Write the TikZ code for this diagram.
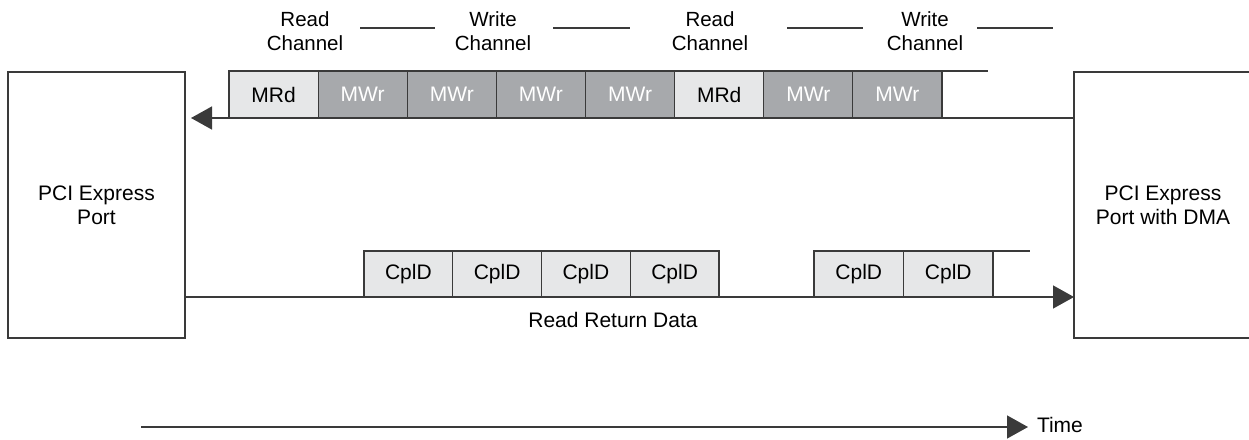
\documentclass[tikz,border=0pt]{standalone}
\usepackage{fontspec}
\setmainfont{Liberation Sans}
\usetikzlibrary{arrows.meta}
\definecolor{lightfill}{HTML}{E6E7E8}
\definecolor{darkfill}{HTML}{A7A9AC}
\definecolor{edge}{HTML}{3A3A3A}
\begin{document}
\begin{tikzpicture}[x=1pt,y=-1pt,
  every node/.style={font=\fontsize{21}{24}\selectfont, inner sep=0pt, outer sep=0pt},
  port/.style={draw=edge, line width=1.4pt, minimum height=266pt, align=center, anchor=north west},
  pkt/.style={draw=edge, line width=1.2pt, minimum height=47pt, anchor=south west},
  rd/.style={pkt, fill=lightfill, minimum width=89.125pt},
  wr/.style={pkt, fill=darkfill, text=white, minimum width=89.125pt},
  cpl/.style={pkt, fill=lightfill, minimum height=46pt},
  lbl/.style={align=center, font=\fontsize{20.5}{24}\selectfont},
  wire/.style={draw=edge, line width=1.4pt},
  dashln/.style={draw=edge, line width=1.2pt},
  head/.style={-{Triangle[length=21pt,width=23pt]}}
]
\useasboundingbox (0,0) rectangle (1249,439);

% ports
\node[port, minimum width=177pt] (lp) at (8,72) {PCI Express\\Port};
\node[port, minimum width=178pt] (rp) at (1074,72) {PCI Express\\Port with DMA};

% top arrow (write/read requests)
\coordinate (ltip) at (191,118);
\draw[wire, head] (rp.west |- ltip) -- (ltip);

% request packets
\node[rd] (p1) at (229,118) {MRd};
\node[wr] (p2) at (p1.south east) [anchor=south west] {MWr};
\node[wr] (p3) at (p2.south east) [anchor=south west] {MWr};
\node[wr] (p4) at (p3.south east) [anchor=south west] {MWr};
\node[wr] (p5) at (p4.south east) [anchor=south west] {MWr};
\node[rd] (p6) at (p5.south east) [anchor=south west] {MRd};
\node[wr] (p7) at (p6.south east) [anchor=south west] {MWr};
\node[wr] (p8) at (p7.south east) [anchor=south west] {MWr};
\coordinate (topend) at (988,70);
\draw[wire] (p8.north east) -- (p8.north east -| topend);

% channel labels
\node[lbl] (l1) at (305,31) {Read\\Channel};
\node[lbl] (l2) at (493,31) {Write\\Channel};
\node[lbl] (l3) at (710,31) {Read\\Channel};
\node[lbl] (l4) at (925,31) {Write\\Channel};
\coordinate (d1a) at (360,28); \coordinate (d1b) at (435,28);
\coordinate (d2a) at (553,28); \coordinate (d2b) at (630,28);
\coordinate (d3a) at (787,28); \coordinate (d3b) at (863,28);
\coordinate (d4a) at (977,28); \coordinate (d4b) at (1053,28);
\draw[dashln] (d1a) -- (d1b);
\draw[dashln] (d2a) -- (d2b);
\draw[dashln] (d3a) -- (d3b);
\draw[dashln] (d4a) -- (d4b);

% bottom arrow (read return data)
\coordinate (rstart) at (185,297);
\draw[wire, head] (rstart) -- (rstart -| rp.west);

% completions
\node[cpl, minimum width=88.75pt] (c1) at (364,297) {CplD};
\node[cpl, minimum width=88.75pt] (c2) at (c1.south east) [anchor=south west] {CplD};
\node[cpl, minimum width=88.75pt] (c3) at (c2.south east) [anchor=south west] {CplD};
\node[cpl, minimum width=88.75pt] (c4) at (c3.south east) [anchor=south west] {CplD};
\node[cpl, minimum width=89.5pt] (c5) at (814,297) {CplD};
\node[cpl, minimum width=89.5pt] (c6) at (c5.south east) [anchor=south west] {CplD};
\coordinate (botend) at (1030,251);
\draw[wire] (c6.north east) -- (c6.north east -| botend);

\node (rrd) at (613,320) {Read Return Data};

% time axis
\coordinate (t0) at (141,427);
\coordinate (t1) at (1028,427);
\draw[wire, head] (t0) -- (t1);
\node[anchor=west] (time) at (1037,425) {Time};
\end{tikzpicture}
\end{document}
